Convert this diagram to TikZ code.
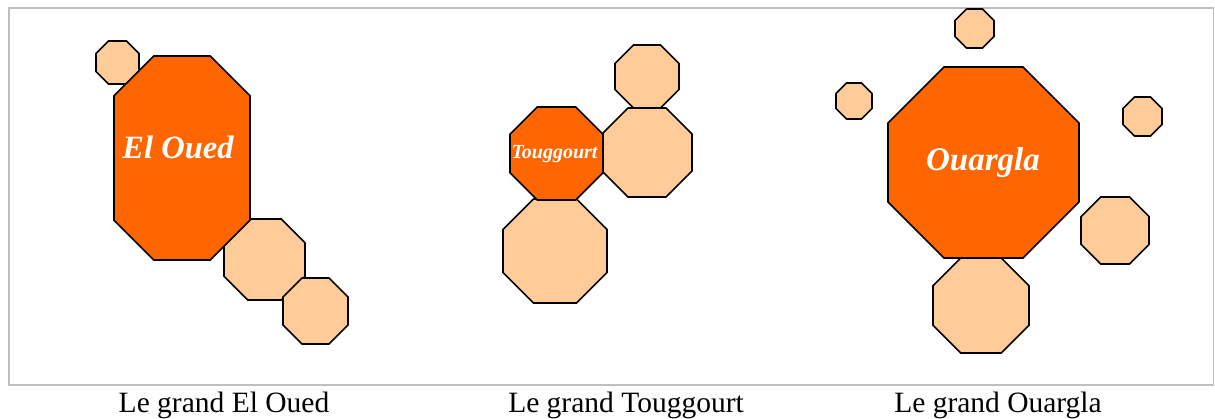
\documentclass[tikz,border=0pt]{standalone}
\usepackage{fontspec}
\setmainfont{Liberation Serif}
\definecolor{deeporange}{HTML}{FF6600}
\definecolor{peach}{HTML}{FFCC99}
\definecolor{framegray}{HTML}{BFBFBF}
\tikzset{
  octline/.style={draw=black, line width=1.6pt, line join=miter},
  caption/.style={anchor=base, inner sep=0pt, font=\fontsize{29.5}{32}\selectfont},
  citylabel/.style={anchor=base, inner sep=0pt, text=white, font=\bfseries\itshape}
}
% #1 fill colour, #2 x1, #3 y1, #4 x2, #5 y2 (pixel units, y downwards)
\newcommand\octshape[5]{%
  \pgfmathsetmacro\octw{#4-#2}%
  \pgfmathsetmacro\octh{#5-#3}%
  \pgfmathsetmacro\octc{0.2929*min(\octw,\octh)}%
  \draw[octline, fill=#1] (#2+\octc,#3) -- (#4-\octc,#3) -- (#4,#3+\octc) -- (#4,#5-\octc)
    -- (#4-\octc,#5) -- (#2+\octc,#5) -- (#2,#5-\octc) -- (#2,#3+\octc) -- cycle;}
\begin{document}
\begin{tikzpicture}[x=1pt,y=-1pt]
\useasboundingbox (0,0) rectangle (1215,419);
% frame
\draw[framegray, line width=1.6pt] (9,8) rectangle (1213.5,385);

% El Oued group
\octshape{peach}{96}{41}{139}{84}
\octshape{peach}{224}{219}{305}{300}
\octshape{peach}{283}{278}{348}{344}
\octshape{deeporange}{114}{56}{250}{260}
\node[citylabel, font=\fontsize{32.5}{34}\selectfont\bfseries\itshape] (eloued) at (178,159) {El Oued};

% Touggourt group
\octshape{peach}{615}{45}{679}{108}
\octshape{peach}{602}{108}{692}{197}
\octshape{peach}{503}{199}{607}{303}
\octshape{deeporange}{510}{107}{603}{200}
\node[citylabel, font=\fontsize{20}{22}\selectfont\bfseries\itshape] (touggourt) at (554.5,159) {Touggourt};

% Ouargla group
\octshape{peach}{955}{9}{994}{48}
\octshape{peach}{836}{83}{872}{119}
\octshape{peach}{1123}{97}{1162}{136}
\octshape{peach}{1081}{197}{1149}{264}
\octshape{peach}{933}{258}{1029}{353}
\octshape{deeporange}{888}{67}{1079}{258}
\node[citylabel, font=\fontsize{33}{35}\selectfont\bfseries\itshape] (ouargla) at (983,171) {Ouargla};

% captions
\node[caption] (cap1) at (224,412) {Le grand El Oued};
\node[caption] (cap2) at (626,412) {Le grand Touggourt};
\node[caption] (cap3) at (998,412) {Le grand Ouargla};
\end{tikzpicture}
\end{document}
